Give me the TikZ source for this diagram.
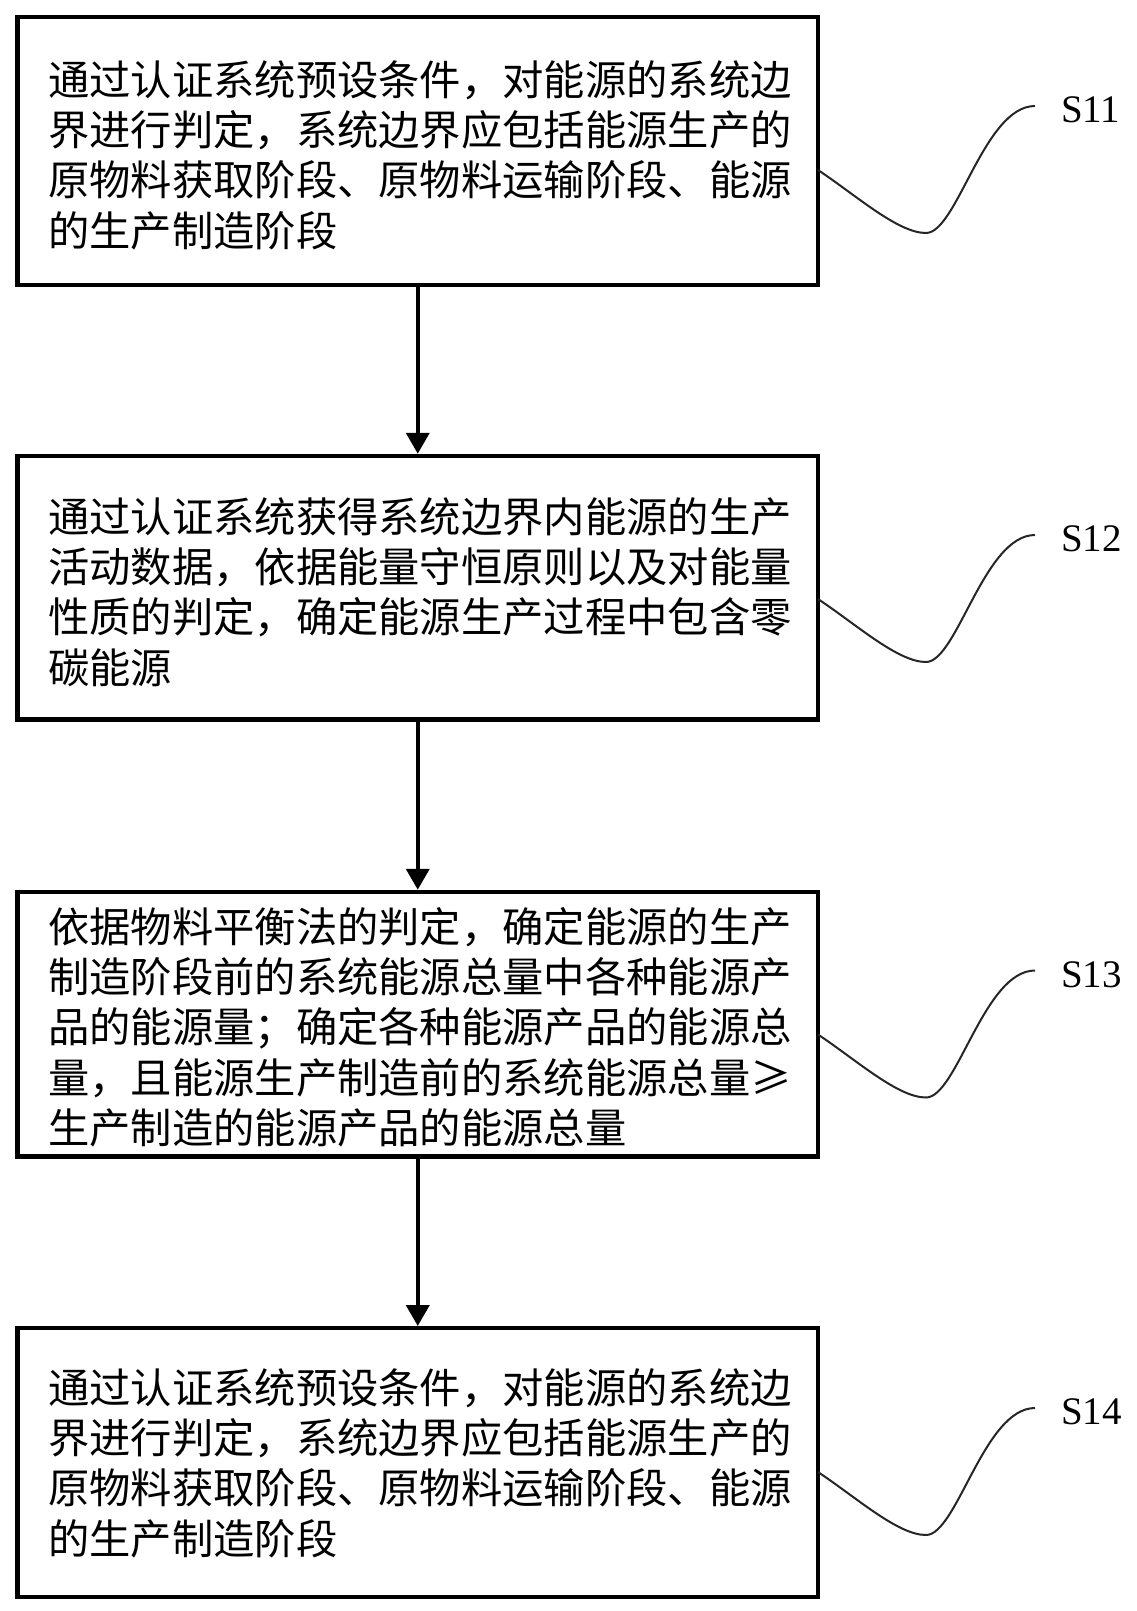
\documentclass[tikz,border=0pt]{standalone}
\usepackage{fontspec}
\newfontfamily\cjk{Noto Sans CJK SC}
\newfontfamily\lblfont{Liberation Serif}
\usetikzlibrary{arrows.meta}
\begin{document}
\begin{tikzpicture}[x=1pt,y=-1pt,
  stepbox/.style={draw=black, line width=4.5pt, inner sep=0pt, outer sep=0pt, minimum width=800.5pt},
  steptext/.style={inner sep=0pt, anchor=west, align=left, font=\cjk\fontsize{41.3}{50.3}\selectfont},
  flow/.style={line width=4pt, shorten >=2pt, -{Triangle[width=23pt,length=21pt]}},
  lead/.style={line width=2pt, draw=black!85},
  lbl/.style={font=\lblfont\fontsize{39}{42}\selectfont, inner sep=0pt, anchor=west}]
\useasboundingbox (0,0) rectangle (1136,1611);
\node[stepbox, minimum height=268pt] (b1) at (417.75,151) {};
\node[stepbox, minimum height=263.5pt] (b2) at (417.75,587.5) {};
\node[stepbox, minimum height=264.5pt] (b3) at (417.75,1024) {};
\node[stepbox, minimum height=269pt] (b4) at (417.75,1462.5) {};
\node[steptext] (t1) at (48,155) {通过认证系统预设条件，对能源的系统边\\界进行判定，系统边界应包括能源生产的\\原物料获取阶段、原物料运输阶段、能源\\的生产制造阶段};
\node[steptext] (t2) at (48,592) {通过认证系统获得系统边界内能源的生产\\活动数据，依据能量守恒原则以及对能量\\性质的判定，确定能源生产过程中包含零\\碳能源};
\node[steptext] (t3) at (48,1027) {依据物料平衡法的判定，确定能源的生产\\制造阶段前的系统能源总量中各种能源产\\品的能源量；确定各种能源产品的能源总\\量，且能源生产制造前的系统能源总量≥\\生产制造的能源产品的能源总量};
\node[steptext] (t4) at (48,1463) {通过认证系统预设条件，对能源的系统边\\界进行判定，系统边界应包括能源生产的\\原物料获取阶段、原物料运输阶段、能源\\的生产制造阶段};
\draw[flow] (b1.south) -- (b2.north);
\draw[flow] (b2.south) -- (b3.north);
\draw[flow] (b3.south) -- (b4.north);
\foreach \i/\dy in {1/-19,2/-11.5,3/-10.5,4/-9.5}{
  \coordinate (s\i) at ([yshift=\dy pt]b\i.east);
  \coordinate (m\i) at ([xshift=108pt,yshift=-63pt]s\i);
  \coordinate (e\i) at ([xshift=217pt,yshift=64pt]s\i);
  \draw[lead] (s\i) .. controls +(39,26) and +(-28,0) .. (m\i) .. controls +(31,0) and +(-51,0) .. (e\i);
  \node[lbl] (l\i) at ([xshift=26pt,yshift=-4pt]e\i) {S1\i};
}
\end{tikzpicture}
\end{document}
